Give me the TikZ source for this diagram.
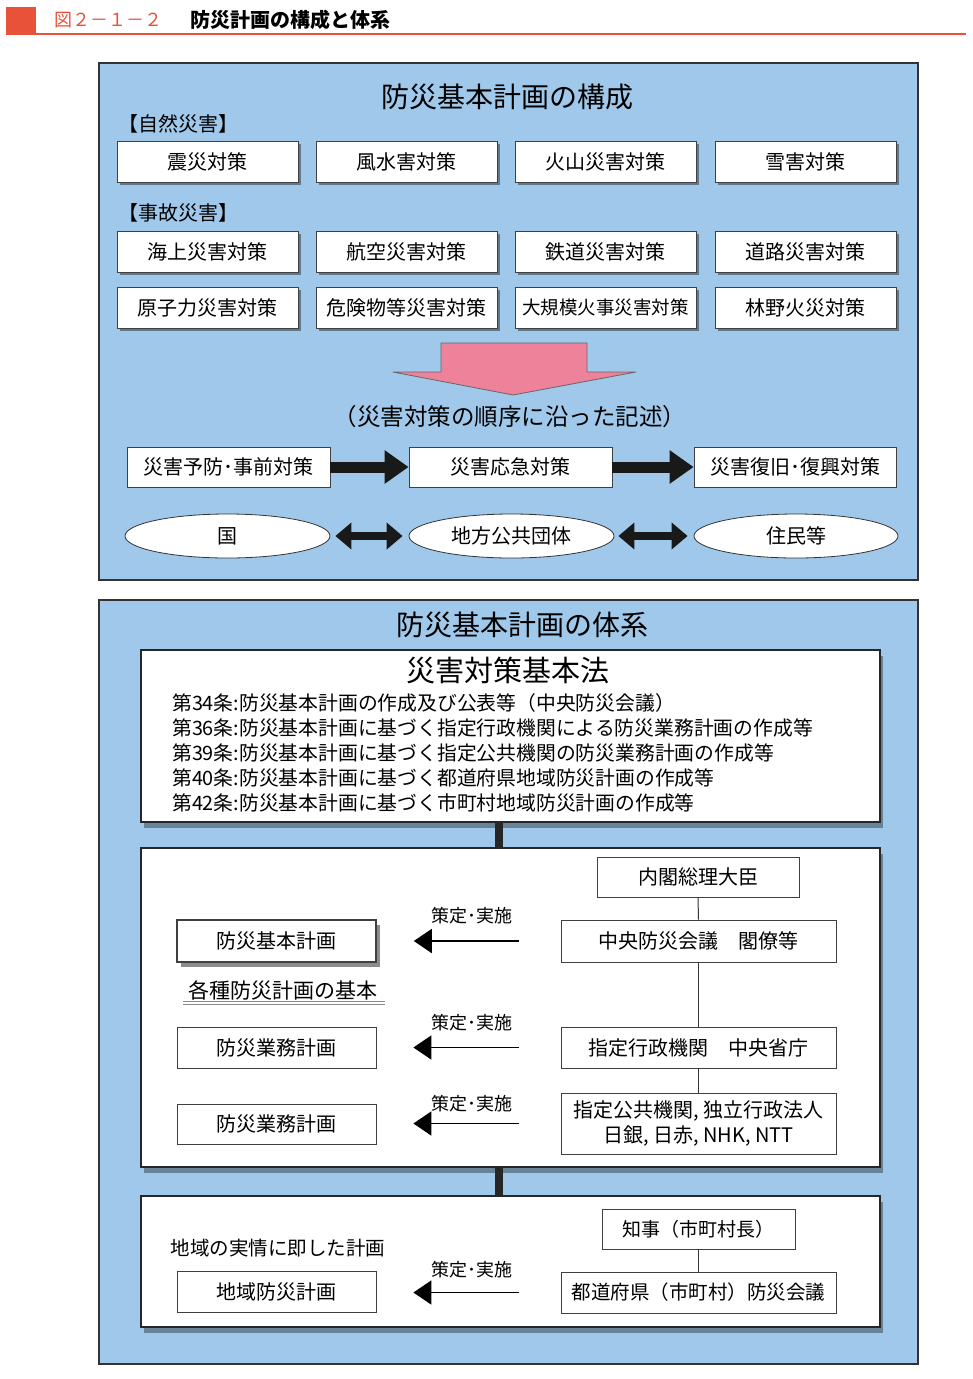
\documentclass[tikz,border=0pt]{standalone}
\usepackage{fontspec}
\setmainfont{Noto Sans CJK JP}
\usetikzlibrary{arrows.meta,shadows,shapes.geometric}
\definecolor{panelblue}{RGB}{160,200,234}
\definecolor{pinkarrow}{RGB}{238,130,154}
\definecolor{headred}{RGB}{232,82,56}
\newcommand{\myfs}[1]{\fontsize{#1}{#1}\selectfont}
\begin{document}
\begin{tikzpicture}[x=1pt,y=-1pt,
  panel/.style={draw=black!80,fill=panelblue,line width=1.2pt,inner sep=0},
  bigwhite/.style={draw=black!85,fill=white,line width=1.6pt,inner sep=0,
     drop shadow={shadow xshift=3pt,shadow yshift=-6pt,fill=black,opacity=0.35}},
  topbox/.style={draw=black!75,fill=white,line width=0.8pt,inner sep=0,
     minimum width=181pt,minimum height=41pt,font=\myfs{20},
     drop shadow={shadow xshift=3pt,shadow yshift=-3pt,fill=black,opacity=0.4}},
  procbox/.style={draw=black!75,fill=white,line width=0.8pt,inner sep=0,
     minimum width=203pt,minimum height=40pt,font=\myfs{20}},
  ell/.style={ellipse,draw=black!80,fill=white,line width=0.8pt,inner sep=0,
     minimum width=205pt,minimum height=44pt,font=\myfs{20}},
  wbox/.style={draw=black!75,fill=white,line width=0.8pt,inner sep=0,font=\myfs{20}},
  lbl/.style={inner sep=0,font=\myfs{18}},
  arr/.style={line width=1.8pt,-{Triangle[length=18pt,width=24pt]}},
  bigarr/.style={line width=11pt,black!90,-{Triangle[length=24pt,width=32pt]}},
  dblarr/.style={line width=8pt,black!90,{Triangle[length=16pt,width=26pt]}-{Triangle[length=16pt,width=26pt]}},
  bar/.style={line width=8pt,black!85},
  vline/.style={line width=1pt,black!80}]
\useasboundingbox (0,0) rectangle (972,1379);

% header
\fill[headred] (6,7) rectangle (36,35);
\draw[headred,line width=2pt] (36,34) -- (966,34);
\node[anchor=west,inner sep=0,text=headred,font=\myfs{18}] (fig) at (54,20) {図２－１－２};
\node[anchor=west,inner sep=0,font=\myfs{20}\bfseries] (figtitle) at (190,20) {防災計画の構成と体系};

% top panel
\node[panel,minimum width=819pt,minimum height=517pt] (top) at (508.5,321.5) {};
\node[inner sep=0,font=\myfs{28}] (toptitle) at (507,97) {防災基本計画の構成};
\node[anchor=west,inner sep=0,font=\myfs{20}] (nat) at (118,124) {【自然災害】};
\node[anchor=west,inner sep=0,font=\myfs{20}] (acc) at (118,213) {【事故災害】};

\node[topbox] (b11) at (207.5,161.5) {震災対策};
\node[topbox] (b12) at (406.5,161.5) {風水害対策};
\node[topbox] (b13) at (605.5,161.5) {火山災害対策};
\node[topbox] (b14) at (805.5,161.5) {雪害対策};
\node[topbox] (b21) at (207.5,251.5) {海上災害対策};
\node[topbox] (b22) at (406.5,251.5) {航空災害対策};
\node[topbox] (b23) at (605.5,251.5) {鉄道災害対策};
\node[topbox] (b24) at (805.5,251.5) {道路災害対策};
\node[topbox] (b31) at (207.5,307.5) {原子力災害対策};
\node[topbox] (b32) at (406.5,307.5) {危険物等災害対策};
\node[topbox,font=\myfs{18.5}] (b33) at (605.5,307.5) {大規模火事災害対策};
\node[topbox] (b34) at (805.5,307.5) {林野火災対策};

% pink arrow
\draw[fill=pinkarrow,draw=black!60,line width=0.8pt]
  (441,343) -- (587,343) -- (587,372) -- (636,372) -- (513,395) -- (393,372) -- (441,372) -- cycle;

\node[inner sep=0,font=\myfs{23.5}] (order) at (510,417) {（災害対策の順序に沿った記述）};

\node[procbox] (p1) at (228.5,467) {災害予防･事前対策};
\node[procbox] (p2) at (510.5,467) {災害応急対策};
\node[procbox,minimum width=202pt] (p3) at (795,467) {災害復旧･復興対策};
\draw[bigarr] (p1.east) -- (p2.west);
\draw[bigarr] (p2.east) -- (p3.west);

\node[ell] (e1) at (227.5,536) {国};
\node[ell] (e2) at (511.5,536) {地方公共団体};
\node[ell,minimum width=204pt] (e3) at (796,536) {住民等};
\draw[dblarr,shorten <=5pt,shorten >=6pt] (e1.east) -- (e2.west);
\draw[dblarr,shorten <=4pt,shorten >=6pt] (e2.east) -- (e3.west);

% bottom panel
\node[panel,minimum width=819pt,minimum height=764pt] (bot) at (508.5,982) {};
\node[inner sep=0,font=\myfs{28}] (bottitle) at (522,625) {防災基本計画の体系};

\node[bigwhite,minimum width=739pt,minimum height=172pt] (law) at (510.5,736) {};
\node[bigwhite,minimum width=739pt,minimum height=319pt] (mid) at (510.5,1007.5) {};
\node[bigwhite,minimum width=739pt,minimum height=131pt] (low) at (510.5,1261.5) {};
\coordinate (bx) at (499,0);
\draw[bar] (law.south -| bx) -- (mid.north -| bx);
\draw[bar] (mid.south -| bx) -- (low.north -| bx);

\node[inner sep=0,font=\myfs{29}] (lawtitle) at (508,670) {災害対策基本法};
\node[anchor=west,inner sep=0,font=\myfs{19.8}] (l34) at (172,703) {第34条:防災基本計画の作成及び公表等（中央防災会議）};
\node[anchor=west,inner sep=0,font=\myfs{19.8}] (l36) at (172,728) {第36条:防災基本計画に基づく指定行政機関による防災業務計画の作成等};
\node[anchor=west,inner sep=0,font=\myfs{19.8}] (l39) at (172,753) {第39条:防災基本計画に基づく指定公共機関の防災業務計画の作成等};
\node[anchor=west,inner sep=0,font=\myfs{19.8}] (l40) at (172,778) {第40条:防災基本計画に基づく都道府県地域防災計画の作成等};
\node[anchor=west,inner sep=0,font=\myfs{19.8}] (l42) at (172,803) {第42条:防災基本計画に基づく市町村地域防災計画の作成等};

% middle box contents
\node[wbox,minimum width=202pt,minimum height=40pt] (pm) at (698,877) {内閣総理大臣};
\node[wbox,minimum width=275pt,minimum height=42pt] (chuo) at (698.5,941) {中央防災会議　閣僚等};
\node[wbox,minimum width=275pt,minimum height=41pt] (gyosei) at (698.5,1047.5) {指定行政機関　中央省庁};
\node[wbox,minimum width=275pt,minimum height=61pt,align=center,font=\myfs{20}] (kokyo) at (698.5,1123.5)
  {指定公共機関, 独立行政法人\\[4pt]日銀, 日赤, NHK, NTT};
\draw[vline] (pm.south) -- (chuo.north);
\draw[vline] (chuo.south) -- (gyosei.north);
\draw[vline] (gyosei.south) -- (kokyo.north);

\node[wbox,line width=1.6pt,minimum width=199pt,minimum height=42pt,
      drop shadow={shadow xshift=4pt,shadow yshift=-5pt,fill=black,opacity=0.45}] (kihon) at (276.5,941) {防災基本計画};
\node[inner sep=0,font=\myfs{21}] (kakushu) at (283,990) {各種防災計画の基本};
\draw[black!45,line width=0.8pt] (183,1001) -- (385,1001);
\draw[black!45,line width=0.8pt] (183,1004) -- (385,1004);
\node[wbox,minimum width=199pt,minimum height=41pt] (gyomu1) at (276.5,1047.5) {防災業務計画};
\node[wbox,minimum width=199pt,minimum height=40pt] (gyomu2) at (276.5,1124) {防災業務計画};

\node[lbl] (s1) at (472,916) {策定･実施};
\node[lbl] (s2) at (472,1023) {策定･実施};
\node[lbl] (s3) at (472,1104) {策定･実施};
\draw[arr,shorten <=42pt,shorten >=37pt] (chuo.west) -- (kihon.east);
\draw[arr,shorten <=42pt,shorten >=37pt] (gyosei.west) -- (gyomu1.east);
\draw[arr,shorten <=42pt,shorten >=37pt] (kokyo.west) -- (kokyo.west -| gyomu2.east);

% lower box contents
\node[wbox,minimum width=193pt,minimum height=40pt,font=\myfs{19}] (chiji) at (698.5,1229) {知事（市町村長）};
\node[wbox,minimum width=275pt,minimum height=41pt,font=\myfs{19.5}] (kaigi) at (698.5,1292.5) {都道府県（市町村）防災会議};
\draw[vline] (chiji.south) -- (kaigi.north);
\node[inner sep=0,font=\myfs{19.5}] (jitsujo) at (278,1248) {地域の実情に即した計画};
\node[wbox,minimum width=199pt,minimum height=41pt] (chiiki) at (276.5,1291.5) {地域防災計画};
\node[lbl] (s4) at (472,1270) {策定･実施};
\draw[arr,shorten <=42pt,shorten >=37pt] (kaigi.west) -- (kaigi.west -| chiiki.east);
\end{tikzpicture}
\end{document}
